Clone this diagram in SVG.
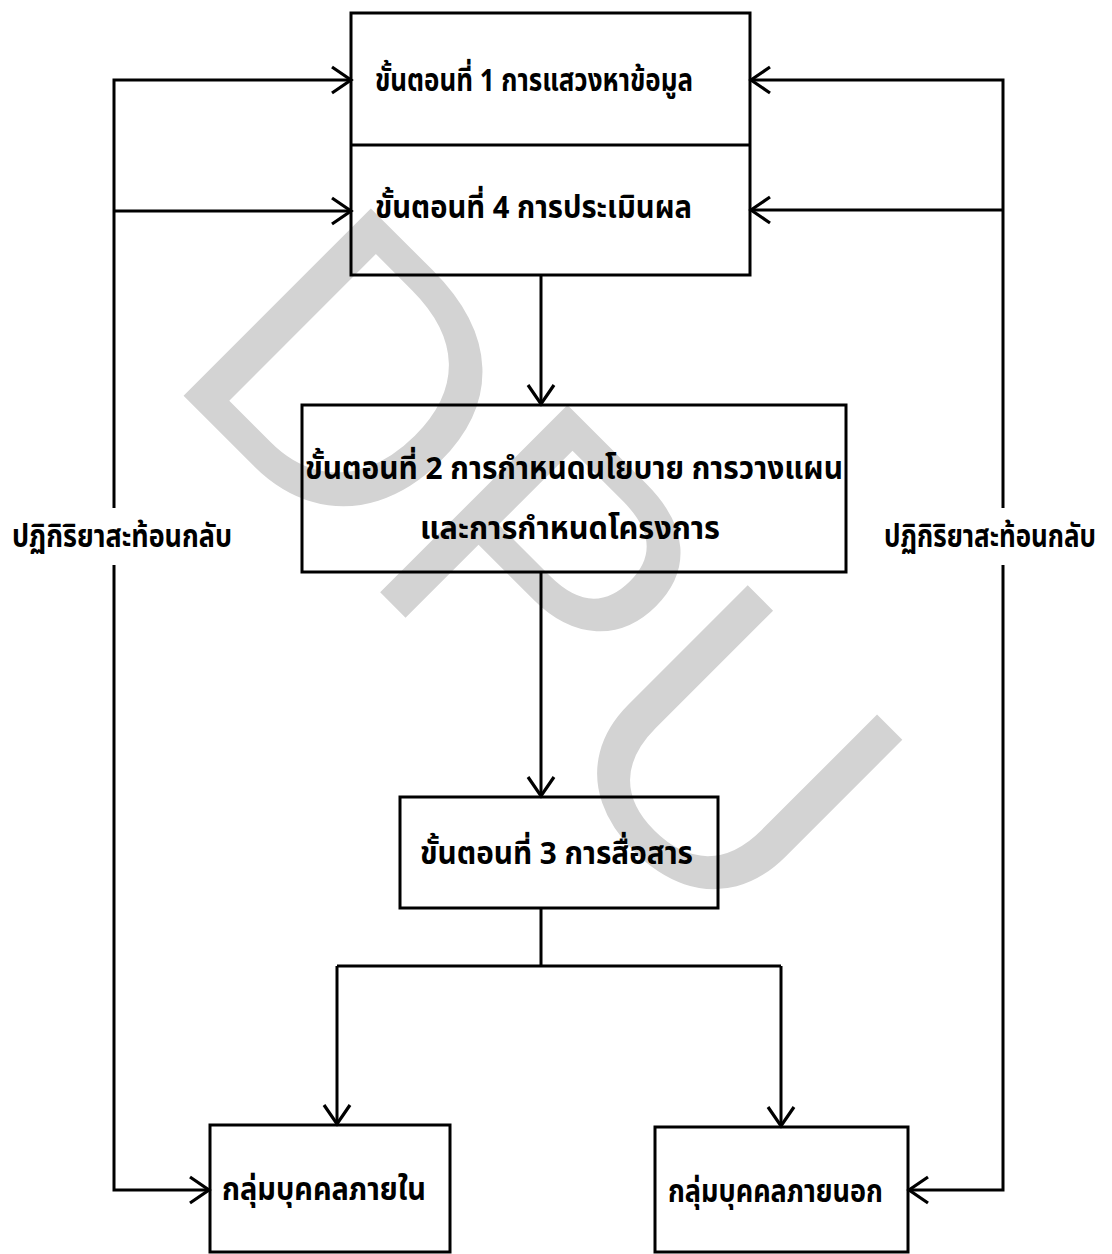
<svg xmlns="http://www.w3.org/2000/svg" width="1112" height="1254" viewBox="0 0 1112 1254">
<defs>
<marker id="ah" markerUnits="userSpaceOnUse" markerWidth="40" markerHeight="40" viewBox="-25 -20 30 40" refX="0" refY="0" orient="auto">
<path d="M-19,-13 L0,0 L-19,13" fill="none" stroke="#000" stroke-width="3.2"/>
</marker>
<style>
.box{fill:none;stroke:#000;stroke-width:3}
.ln{fill:none;stroke:#000;stroke-width:3}
.arr{fill:none;stroke:#000;stroke-width:3;marker-end:url(#ah)}
.t{font-family:"Noto Sans Thai","Noto Sans","DejaVu Sans",sans-serif;font-size:31px;font-weight:bold;fill:#000}
.wm{font-family:"Liberation Sans",Arial,sans-serif;font-size:385px;fill:#d3d3d3}
</style>
</defs>
<rect width="1112" height="1254" fill="#fff"/>
<text class="wm" x="378" y="150" transform="rotate(45)">DPU</text>
<g id="connectors">
<path class="arr" d="M114,508 V80 H351"/>
<path class="arr" d="M114,211 H351"/>
<path class="arr" d="M114,565 V1190 H209"/>
<path class="arr" d="M1003,508 V80 H751"/>
<path class="arr" d="M1003,210 H751"/>
<path class="arr" d="M1003,565 V1190 H909"/>
<path class="arr" d="M541,275 V404"/>
<path class="arr" d="M541,572 V796"/>
<path class="ln" d="M541,908 V966 M337,966 H781"/>
<path class="arr" d="M337,966 V1124"/>
<path class="arr" d="M781,966 V1126"/>
</g>
<g id="node-step1-4">
<rect class="box" x="351" y="13" width="399" height="262"/>
<line class="ln" x1="351" y1="145" x2="750" y2="145"/>
<text class="t" x="375" y="91" textLength="318" lengthAdjust="spacingAndGlyphs">ขั้นตอนที่ 1 การแสวงหาข้อมูล</text>
<text class="t" x="375" y="218" textLength="317" lengthAdjust="spacingAndGlyphs">ขั้นตอนที่ 4 การประเมินผล</text>
</g>
<g id="node-step2">
<rect class="box" x="302" y="405" width="544" height="167"/>
<text class="t" x="305" y="479" textLength="538" lengthAdjust="spacingAndGlyphs">ขั้นตอนที่ 2 การกำหนดนโยบาย การวางแผน</text>
<text class="t" x="420" y="539" textLength="300" lengthAdjust="spacingAndGlyphs">และการกำหนดโครงการ</text>
</g>
<g id="node-step3">
<rect class="box" x="400" y="797" width="318" height="111"/>
<text class="t" x="420" y="864" textLength="273" lengthAdjust="spacingAndGlyphs">ขั้นตอนที่ 3 การสื่อสาร</text>
</g>
<g id="node-internal">
<rect class="box" x="210" y="1125" width="240" height="127"/>
<text class="t" x="222" y="1200" textLength="204" lengthAdjust="spacingAndGlyphs">กลุ่มบุคคลภายใน</text>
</g>
<g id="node-external">
<rect class="box" x="655" y="1127" width="253" height="125"/>
<text class="t" x="668" y="1202" textLength="215" lengthAdjust="spacingAndGlyphs">กลุ่มบุคคลภายนอก</text>
</g>
<g id="label-left">
<text class="t" x="12" y="547" textLength="220" lengthAdjust="spacingAndGlyphs">ปฏิกิริยาสะท้อนกลับ</text>
</g>
<g id="label-right">
<text class="t" x="884" y="547" textLength="212" lengthAdjust="spacingAndGlyphs">ปฏิกิริยาสะท้อนกลับ</text>
</g>
</svg>
